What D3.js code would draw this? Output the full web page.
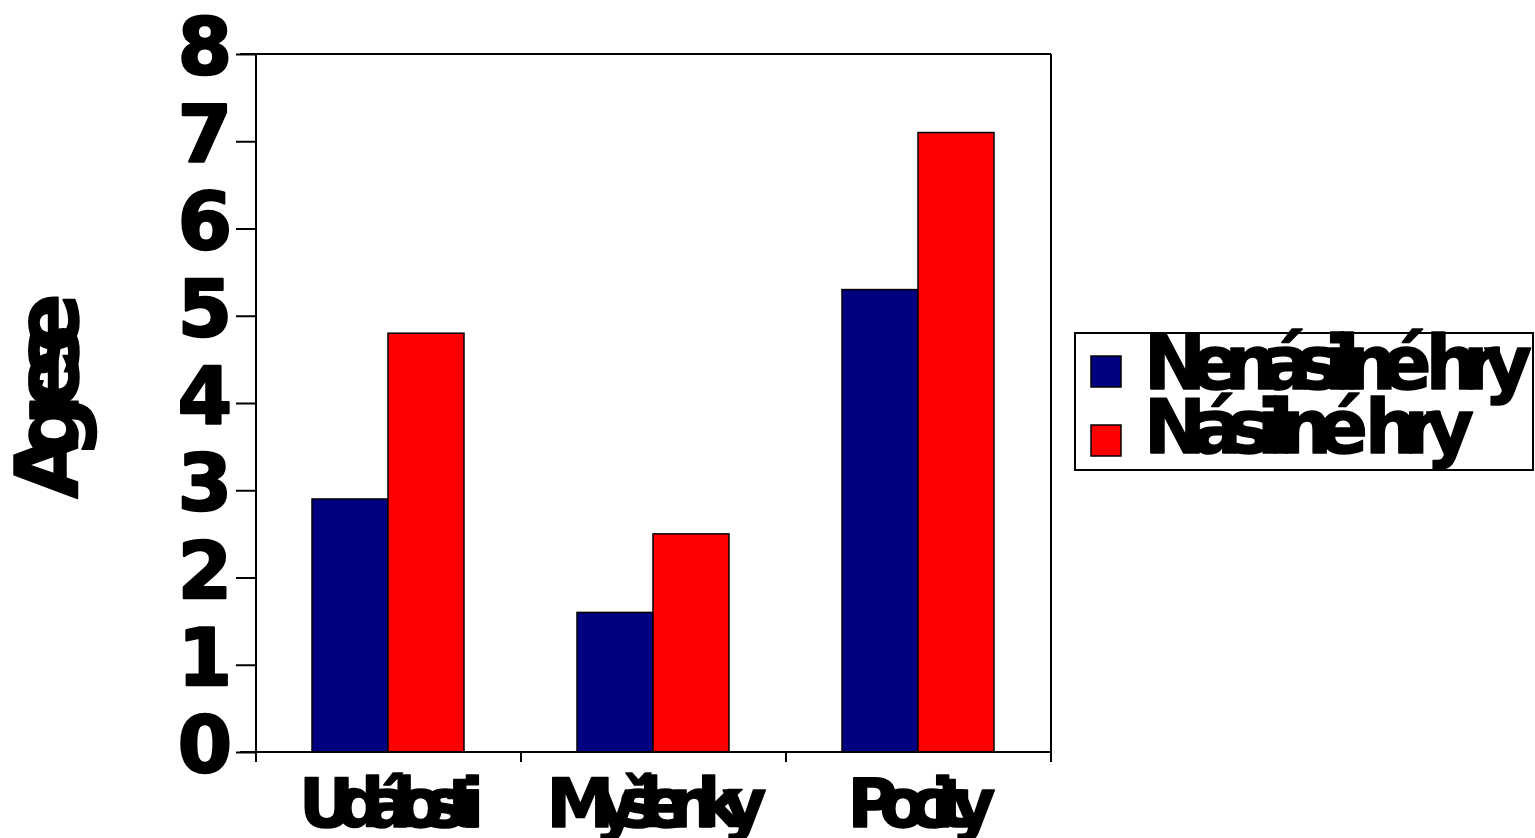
<!DOCTYPE html>
<html>
<head>
<meta charset="utf-8">
<script src="https://cdn.jsdelivr.net/npm/d3@7"></script>
<style>
  html, body { margin: 0; padding: 0; background: #fff; }
  svg { display: block; }
  text { font-family: "DejaVu Sans", sans-serif; font-weight: bold; fill: #000; stroke: #000; stroke-width: 1.5px; stroke-linejoin: round; }
</style>
</head>
<body>
<svg id="chart" width="1535" height="838"></svg>
<script>
const categories = ["Události", "Myšlenky", "Pocity"];
const seriesNames = ["Nenásilné hry", "Násilné hry"];
const seriesColors = ["#000080", "#ff0000"];
const nonViolent = [2.9, 1.6, 5.3];
const violent = [4.8, 2.5, 7.1];
const yTicks = [0, 1, 2, 3, 4, 5, 6, 7, 8];
const yTitle = "Agrese";

const seriesValues = [nonViolent, violent];
const svg = d3.select("#chart");

const plot = { left: 256, right: 1051, top: 54, bottom: 752 };

const x = d3.scaleBand().domain(categories).range([plot.left, plot.right]).paddingInner(0).paddingOuter(0);
const xs = d3.scaleBand().domain(seriesNames).range([56, x.bandwidth() - 57]).padding(0);
const y = d3.scaleLinear().domain([0, 8]).range([plot.bottom, plot.top]);

// bars
const groups = svg.append("g").selectAll("g").data(categories).join("g")
  .attr("transform", d => `translate(${x(d)},0)`);
groups.selectAll("rect")
  .data((c, i) => seriesNames.map((s, j) => ({ s, v: seriesValues[j][i], color: seriesColors[j] })))
  .join("rect")
  .attr("x", d => xs(d.s))
  .attr("width", xs.bandwidth())
  .attr("y", d => y(d.v))
  .attr("height", d => y(0) - y(d.v))
  .attr("fill", d => d.color)
  .attr("stroke", "#000")
  .attr("stroke-width", 1.5);

// frame: top and right
svg.append("line").attr("x1", 240).attr("x2", plot.right).attr("y1", plot.top).attr("y2", plot.top)
  .attr("stroke", "#000").attr("stroke-width", 2);
svg.append("line").attr("x1", plot.right).attr("x2", plot.right).attr("y1", plot.top).attr("y2", plot.bottom + 10)
  .attr("stroke", "#000").attr("stroke-width", 2);

// y axis
const yAxis = svg.append("g").attr("transform", `translate(${plot.left},0)`)
  .call(d3.axisLeft(y).tickValues(yTicks).tickFormat(d3.format("d")).tickSize(20).tickPadding(4).tickSizeOuter(0));
yAxis.select(".domain").attr("stroke", "#000").attr("stroke-width", 2)
  .attr("d", `M0,${plot.top}V${plot.bottom + 10}`);
yAxis.selectAll(".tick line").attr("stroke", "#000").attr("stroke-width", 2);
yAxis.selectAll(".tick text")
  .style("font-family", "'DejaVu Sans', sans-serif").style("font-weight", "bold")
  .style("stroke", "#000").style("stroke-width", "2.5px")
  .attr("font-size", 78).attr("dy", "0.25em").attr("fill", "#000");

// x axis (ticks at band edges)
const edges = categories.map(c => x(c)).concat([x(categories[categories.length - 1]) + x.bandwidth()]);
const xg = svg.append("g");
xg.append("line").attr("x1", 240).attr("x2", plot.right).attr("y1", plot.bottom).attr("y2", plot.bottom)
  .attr("stroke", "#000").attr("stroke-width", 2);
xg.selectAll("line.tk").data(edges).join("line").attr("class", "tk")
  .attr("x1", d => d).attr("x2", d => d).attr("y1", plot.bottom).attr("y2", plot.bottom + 10)
  .attr("stroke", "#000").attr("stroke-width", 2);
const labelWidths = [185, 220, 148];
xg.selectAll("text").data(categories).join("text")
  .attr("x", d => x(d) + x.bandwidth() / 2 + 3)
  .attr("y", 827)
  .attr("text-anchor", "middle")
  .attr("font-size", 68)
  .attr("textLength", (d, i) => labelWidths[i])
  .attr("lengthAdjust", "spacing")
  .text(d => d);

// y title
svg.append("text")
  .attr("transform", "translate(78,396) rotate(-90)")
  .attr("text-anchor", "middle")
  .attr("font-size", 88)
  .attr("textLength", 206)
  .attr("lengthAdjust", "spacing")
  .text(yTitle);

// legend
const lg = svg.append("g");
lg.append("rect").attr("x", 1075).attr("y", 333).attr("width", 458).attr("height", 137)
  .attr("fill", "#fff").attr("stroke", "#000").attr("stroke-width", 2);
const legendWidths = [388, 330];
const legendY = [356, 425];
const legendBase = [389, 453];
seriesNames.forEach((s, i) => {
  lg.append("rect").attr("x", 1091).attr("y", legendY[i]).attr("width", 30).attr("height", 31)
    .attr("fill", seriesColors[i]).attr("stroke", "#000").attr("stroke-width", 1.5);
  lg.append("text").attr("x", 1144).attr("y", legendBase[i])
    .attr("font-size", 74)
    .attr("textLength", legendWidths[i])
    .attr("lengthAdjust", "spacing")
    .text(s);
});
</script>
</body>
</html>
